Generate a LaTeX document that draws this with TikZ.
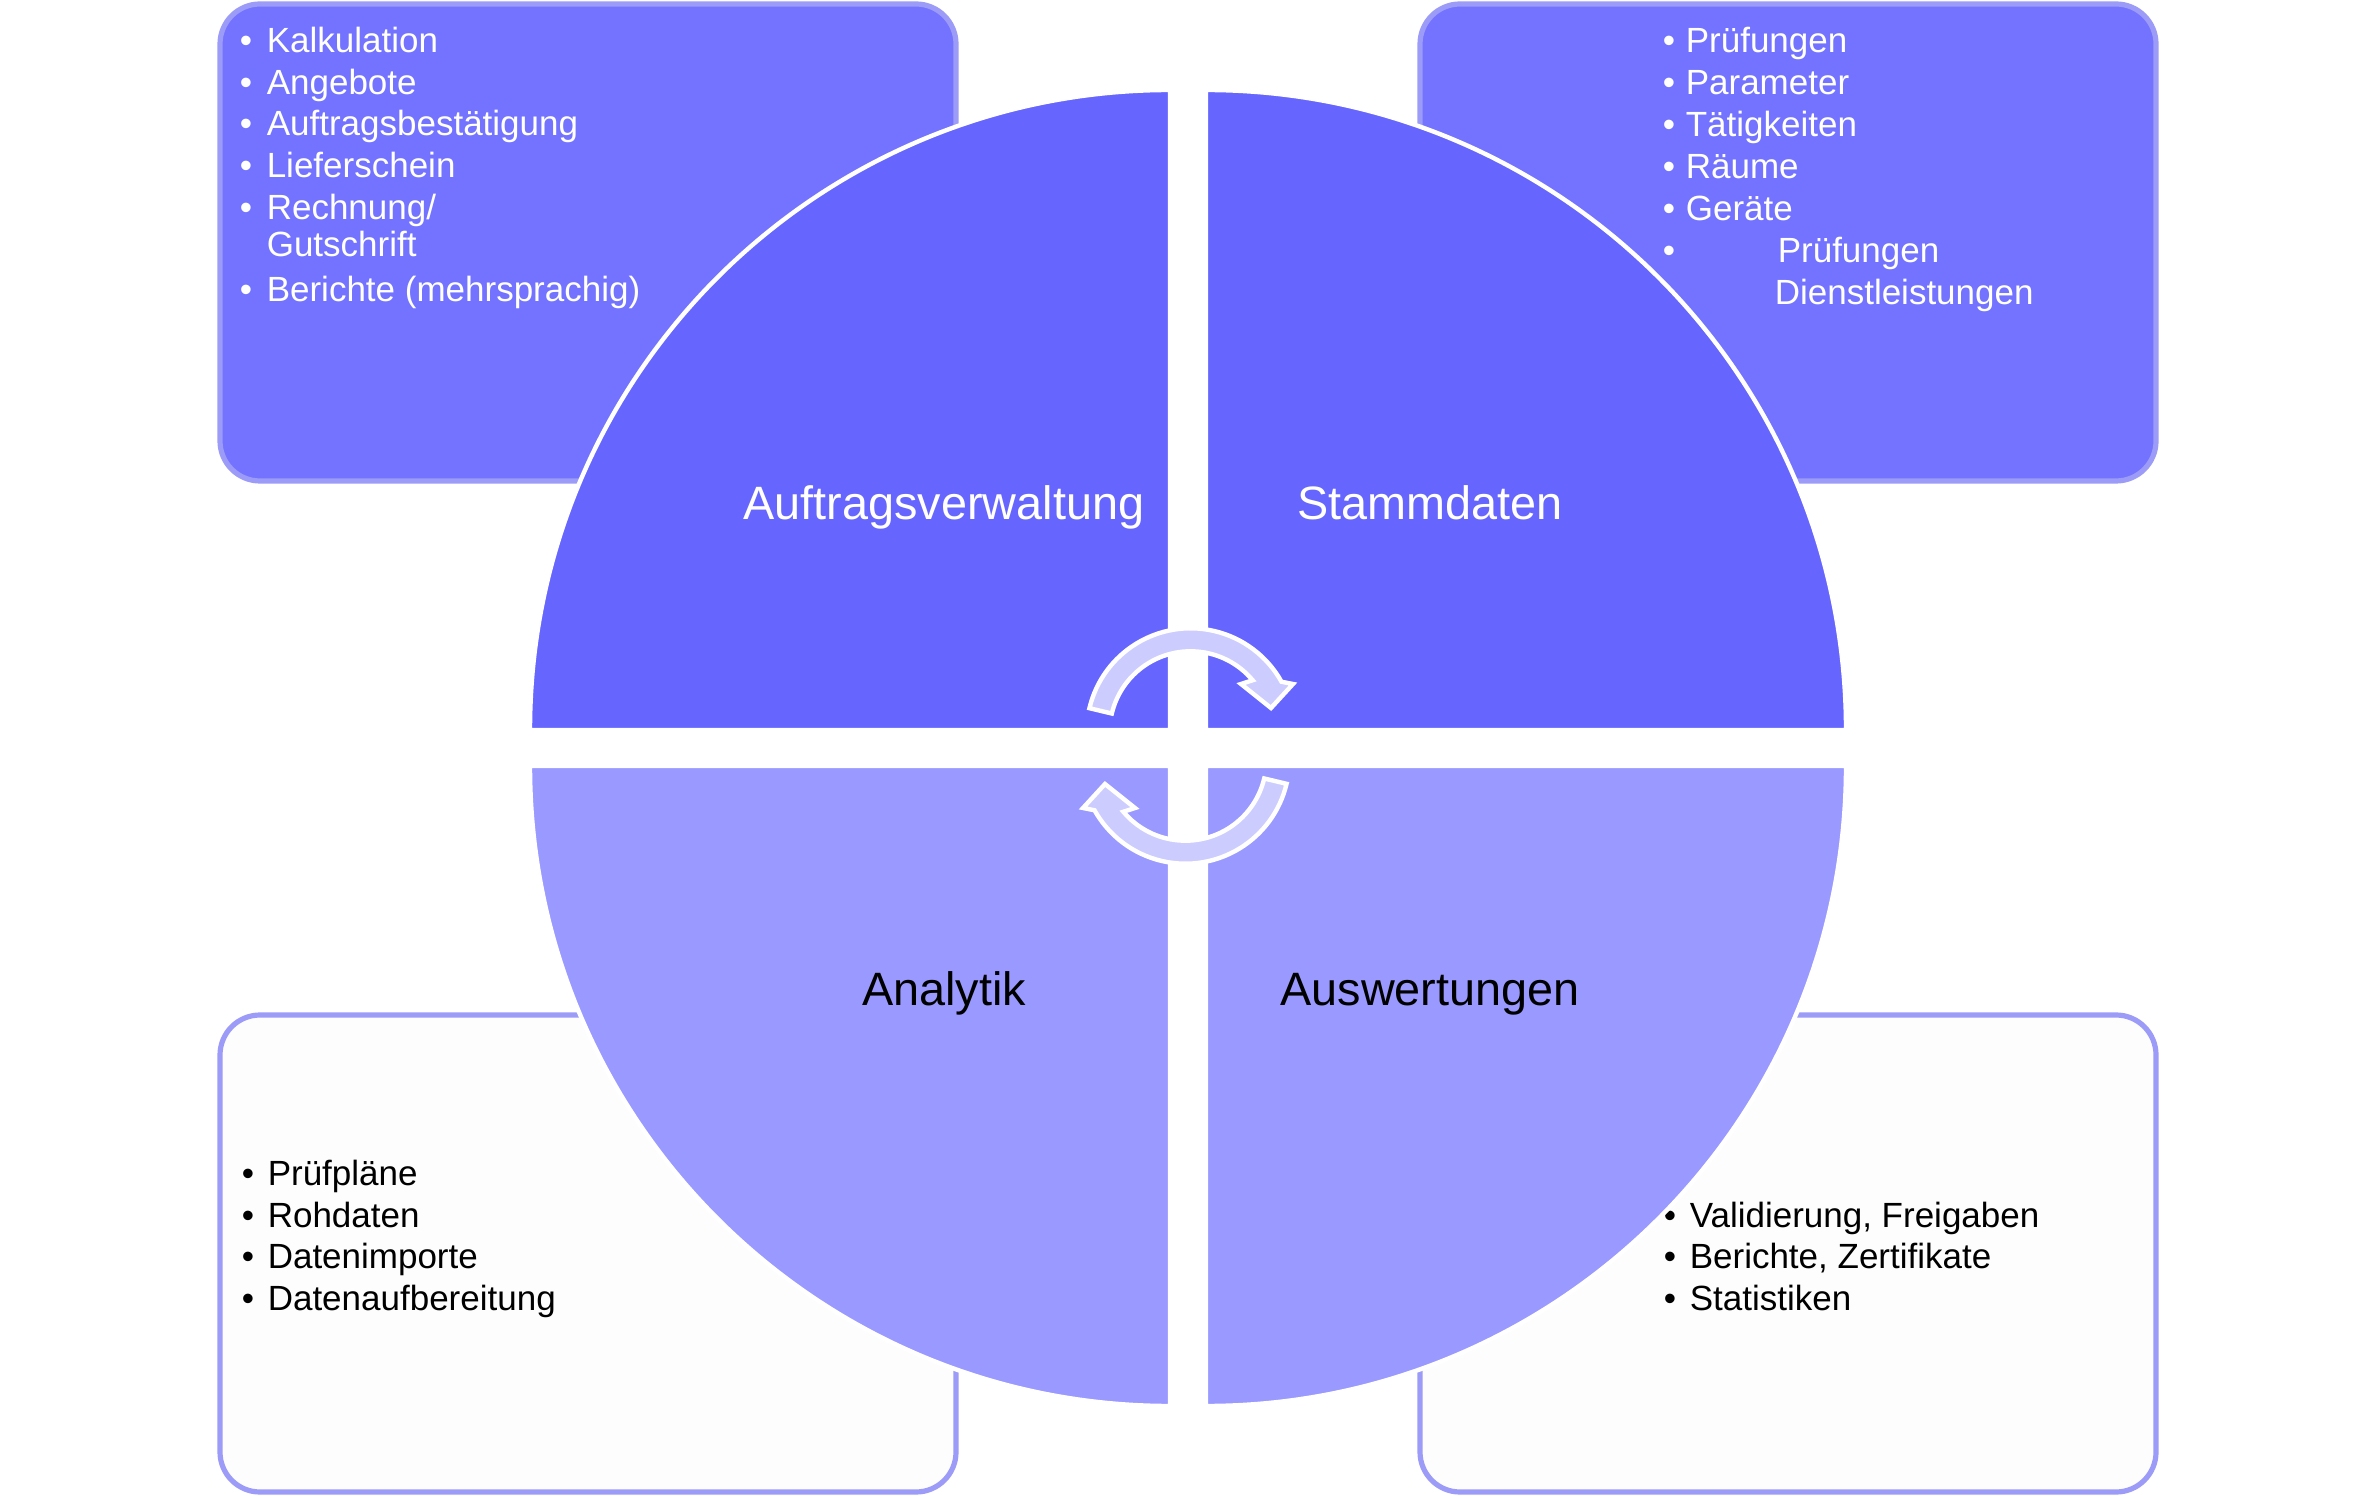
\documentclass[tikz,border=0pt]{standalone}
\usepackage{fontspec}
\setmainfont{Liberation Sans}
\definecolor{qtop}{HTML}{6666FF}
\definecolor{qbot}{HTML}{9999FF}
\definecolor{btop}{HTML}{7373FF}
\definecolor{bline}{HTML}{9C9CF8}
\definecolor{bbot}{HTML}{FDFDFD}
\definecolor{arrfill}{HTML}{CCCCFF}
\newcommand{\boxfont}{\fontsize{8.75}{10.5}\selectfont}
\newcommand{\labfont}{\fontsize{11.7}{14}\selectfont}
\tikzset{
  infobox/.style={line width=1.3pt, draw=bline, rounded corners=10pt},
  topbox/.style={infobox, fill=btop},
  botbox/.style={infobox, fill=bbot},
  quad/.style={draw=white, line width=1.1pt},
  qup/.style={quad, fill=qtop},
  qdown/.style={quad, fill=qbot},
  circarrow/.style={draw=white, line width=1.1pt, fill=arrfill, line join=miter},
  ln/.style={anchor=base west, inner sep=0pt, font=\boxfont},
  lnw/.style={ln, text=white},
  lab/.style={anchor=base, inner sep=0pt, font=\labfont},
}
\newcommand{\arrowshape}{%
  (193.4:104) arc[start angle=193.4, end angle=330.9, radius=104]
  -- (102.4,-48.3) -- (80.4,-24.3) -- (50.4,-48.3)
  -- (320:81) arc[start angle=320, end angle=193.4, radius=81] -- cycle}
\begin{document}
\begin{tikzpicture}[x=0.25pt, y=-0.25pt]
\useasboundingbox[fill=white] (0,0) rectangle (2376,1496);

% boxes
\draw[topbox] (220,4) rectangle (956,481);
\draw[topbox] (1420,4) rectangle (2156,481);
\draw[botbox] (220,1015) rectangle (956,1492);
\draw[botbox] (1420,1015) rectangle (2156,1492);

% top-left text
\node[lnw] (tl1) at (239,53)  {\makebox[6.75pt][l]{•}Kalkulation};
\node[lnw] (tl2) at (239,95)  {\makebox[6.75pt][l]{•}Angebote};
\node[lnw] (tl3) at (239,136) {\makebox[6.75pt][l]{•}Auftragsbestätigung};
\node[lnw] (tl4) at (239,178) {\makebox[6.75pt][l]{•}Lieferschein};
\node[lnw] (tl5) at (239,220) {\makebox[6.75pt][l]{•}Rechnung/};
\node[lnw] (tl6) at (239,257) {\makebox[6.75pt][l]{}Gutschrift};
\node[lnw] (tl7) at (239,302) {\makebox[6.75pt][l]{•}Berichte (mehrsprachig)};

% top-right text
\node[lnw] (tr1) at (1662,53)  {\makebox[5.75pt][l]{•}Prüfungen};
\node[lnw] (tr2) at (1662,95)  {\makebox[5.75pt][l]{•}Parameter};
\node[lnw] (tr3) at (1662,137) {\makebox[5.75pt][l]{•}Tätigkeiten};
\node[lnw] (tr4) at (1662,179) {\makebox[5.75pt][l]{•}Räume};
\node[lnw] (tr5) at (1662,221) {\makebox[5.75pt][l]{•}Geräte};
\node[lnw] (tr6) at (1662,263) {\makebox[28.75pt][l]{•}Prüfungen};
\node[lnw] (tr7) at (1774,305) {Dienstleistungen};

% bottom-left text
\node[ln] (bl1) at (241,1185) {\makebox[6.5pt][l]{•}Prüfpläne};
\node[ln] (bl2) at (241,1227) {\makebox[6.5pt][l]{•}Rohdaten};
\node[ln] (bl3) at (241,1268) {\makebox[6.5pt][l]{•}Datenimporte};
\node[ln] (bl4) at (241,1310) {\makebox[6.5pt][l]{•}Datenaufbereitung};

% bottom-right text
\node[ln] (br1) at (1663,1227) {\makebox[6.5pt][l]{•}Validierung, Freigaben};
\node[ln] (br2) at (1663,1268) {\makebox[6.5pt][l]{•}Berichte, Zertifikate};
\node[ln] (br3) at (1663,1310) {\makebox[6.5pt][l]{•}Statistiken};

% quadrants
\draw[qup]   (1170,730) -- (530,730) arc[start angle=180, end angle=270, radius=640] -- cycle;
\draw[qup]   (1206,730) -- (1206,90) arc[start angle=270, end angle=360, radius=640] -- cycle;
\draw[qdown] (1206,766) -- (1846,766) arc[start angle=0, end angle=90, radius=640] -- cycle;
\draw[qdown] (1170,766) -- (1170,1406) arc[start angle=90, end angle=180, radius=640] -- cycle;

% circular arrows
\begin{scope}[shift={(1190.6,732.3)}]
  \draw[circarrow] \arrowshape;
\end{scope}
\begin{scope}[rotate around={180:(1188,746)}]
  \begin{scope}[shift={(1190.6,732.3)}]
    \draw[circarrow] \arrowshape;
  \end{scope}
\end{scope}

% quadrant labels
\node[lab, text=white] (q1) at (944,520)  {Auftragsverwaltung};
\node[lab, text=white] (q2) at (1430,520) {Stammdaten};
\node[lab] (q3) at (944,1005)  {Analytik};
\node[lab] (q4) at (1430,1005) {Auswertungen};
\end{tikzpicture}
\end{document}
